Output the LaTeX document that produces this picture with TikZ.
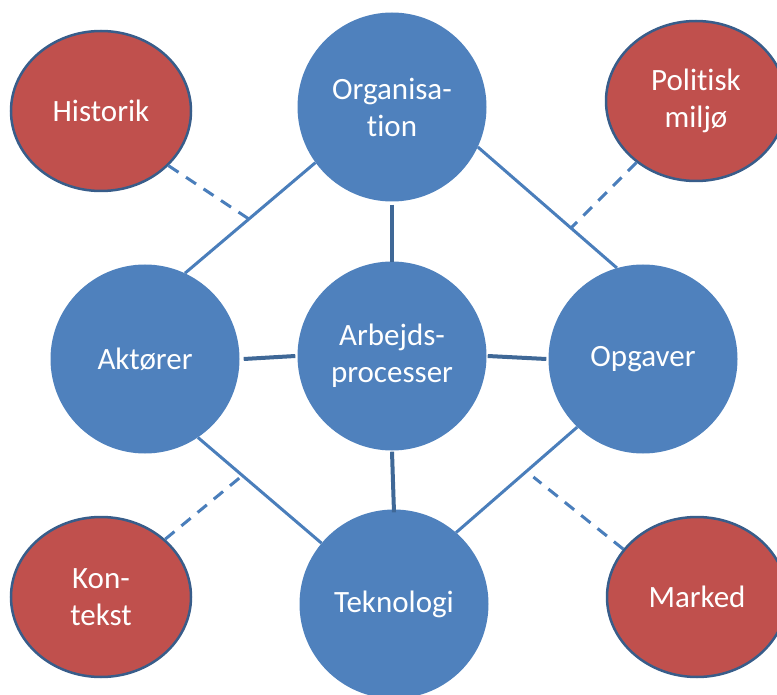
\documentclass[tikz,border=0pt]{standalone}
\usepackage{fontspec}
\setmainfont[Ligatures=NoCommon]{Carlito}
\usetikzlibrary{shapes.geometric}
\definecolor{bluefill}{HTML}{4F81BD}
\definecolor{redfill}{HTML}{C0504D}
\definecolor{rimblue}{HTML}{385D8A}
\definecolor{darklink}{HTML}{3F6897}
\definecolor{lightlink}{HTML}{4A7EBB}
\tikzset{
  bigcirc/.style={circle, fill=bluefill, minimum size=189pt, inner sep=0pt, text=white, align=center, font=\fontsize{31}{37}\selectfont},
  redoval/.style={ellipse, fill=redfill, draw=rimblue, line width=2.5pt, minimum width=180pt, minimum height=160pt, inner sep=0pt, text=white, align=center, font=\fontsize{31}{37}\selectfont},
  straightlink/.style={draw=darklink, line width=4pt},
  diaglink/.style={draw=lightlink, line width=3pt},
  dashlink/.style={draw=lightlink, line width=3pt, dash pattern=on 12pt off 9pt}
}
\begin{document}
\begin{tikzpicture}[x=1pt, y=-1pt]
\useasboundingbox (0,0) rectangle (777,695);
% red context ellipses
\node[redoval] (hist) at (101,111) {Historik};
\node[redoval] (pol) at (696,101) {Politisk\\milj\o};
\node[redoval] (kon) at (101,597) {Kon-\\tekst};
\node[redoval] (mar) at (697,597) {Marked};
% blue circles
\node[bigcirc] (org) at (392,107) {Organisa-\\tion};
\node[bigcirc] (akt) at (145,359) {Akt\o rer};
\node[bigcirc] (arb) at (392,356) {Arbejds-\\processer};
\node[bigcirc] (opg) at (643,359) {Opgaver};
\node[bigcirc] (tek) at (394,604) {Teknologi};
% straight connectors
\draw[straightlink] (org.south) ++(0,3) -- ([yshift=-1pt]arb.north);
\draw[straightlink] (arb.south) ++(0,1) -- ([yshift=-3pt]tek.north);
\draw[straightlink] ([xshift=4pt]akt.east) -- ([xshift=-2pt]arb.west);
\draw[straightlink] ([xshift=1pt]arb.east) -- ([xshift=-2pt]opg.west);
% diagonal connectors
\draw[diaglink] (org.216) -- coordinate[pos=0.51] (hx) (akt.65);
\draw[diaglink] (org.335) -- coordinate[pos=0.67] (px) (opg.106);
\draw[diaglink] (akt.304) -- coordinate[pos=0.36] (kx) (tek.140);
\draw[diaglink] (opg.226) -- coordinate[pos=0.42] (mx) (tek.49);
% dashed context links
\draw[dashlink] (hist.321) -- (hx);
\draw[dashlink] (pol.226) -- (px);
\draw[dashlink] (kon.42) -- (kx);
\draw[dashlink, shorten >=9pt] (mar.147) -- (mx);
\end{tikzpicture}
\end{document}
